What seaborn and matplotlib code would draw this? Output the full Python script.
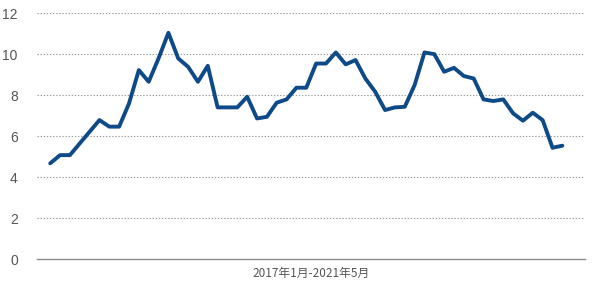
import matplotlib
matplotlib.use("Agg")
import matplotlib.pyplot as plt
import seaborn as sns
import pandas as pd
import numpy as np

months = [f"{y}-{m:02d}" for y in range(2017, 2022) for m in range(1, 13)][:53]
values = [4.67, 5.07, 5.07, 5.64, 6.21, 6.78, 6.46, 6.46, 7.59, 9.22,
          8.65, 9.79, 11.04, 9.79, 9.38, 8.65, 9.43, 7.40, 7.40, 7.40,
          7.92, 6.86, 6.94, 7.63, 7.79, 8.36, 8.36, 9.54, 9.54, 10.08,
          9.50, 9.71, 8.81, 8.16, 7.27, 7.40, 7.43, 8.49, 10.08, 10.00,
          9.14, 9.33, 8.93, 8.81, 7.79, 7.71, 7.79, 7.11, 6.75, 7.14,
          6.78, 5.43, 5.53]
yticks = [0, 2, 4, 6, 8, 10, 12]
xlabel = "2017年1月-2021年5月"

df = pd.DataFrame({"month": months, "idx": np.arange(len(months)), "value": values})

sns.set_theme(style="white")
plt.rcParams['font.family'] = ['Noto Sans CJK SC', 'DejaVu Sans']

fig = plt.figure(figsize=(6, 2.92), dpi=100)
ax = fig.add_axes([0.062, 0.113, 0.913, 0.842])
sns.lineplot(data=df, x="idx", y="value", ax=ax, color="#0e4a88", linewidth=2.8)

ax.set_ylim(0, 12)
ax.set_xlim(-1.32, 54.3)
ax.set_yticks(yticks)
ax.set_yticklabels([str(t) for t in yticks], color="#555555", fontsize=10,
                   family=['Liberation Sans', 'DejaVu Sans'])
ax.set_xticks([])
for t in yticks[1:]:
    ax.axhline(t, color="#9a9a9a", linestyle=(0, (1.2, 1.6)), linewidth=0.8, zorder=0)
for s in ["top", "right", "left"]:
    ax.spines[s].set_visible(False)
ax.spines["bottom"].set_color("#8c8c8c")
ax.spines["bottom"].set_linewidth(1.0)
ax.tick_params(axis="y", length=0, pad=14)
ax.set_ylabel("")
ax.set_xlabel(xlabel, color="#555555", fontsize=8.5, labelpad=6)

fig.savefig("out.png", dpi=100)
